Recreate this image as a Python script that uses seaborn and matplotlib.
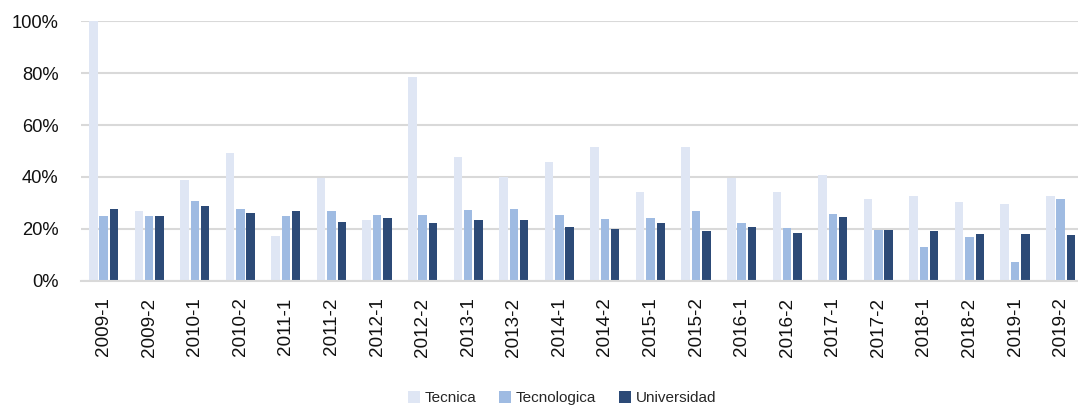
import numpy as np
import pandas as pd
import matplotlib
matplotlib.use("Agg")
import matplotlib.pyplot as plt
import seaborn as sns
from matplotlib.ticker import PercentFormatter

periods = ["2009-1", "2009-2", "2010-1", "2010-2", "2011-1", "2011-2",
           "2012-1", "2012-2", "2013-1", "2013-2", "2014-1", "2014-2",
           "2015-1", "2015-2", "2016-1", "2016-2", "2017-1", "2017-2",
           "2018-1", "2018-2", "2019-1", "2019-2"]
tecnica = [100.0, 26.9, 38.8, 49.4, 17.3, 39.5, 23.5, 78.6, 47.7, 40.1, 45.9,
           51.4, 34.4, 51.4, 39.5, 34.4, 40.8, 31.4, 32.7, 30.3, 29.7, 32.7]
tecnologica = [25.0, 25.0, 30.8, 27.6, 25.0, 26.9, 25.5, 25.5, 27.3, 27.7, 25.3,
               23.8, 24.1, 26.9, 22.1, 20.4, 25.8, 19.4, 13.2, 16.7, 7.3, 31.4]
universidad = [27.7, 25.0, 28.7, 26.3, 26.9, 22.8, 24.1, 22.1, 23.6, 23.6, 20.8,
               20.1, 22.3, 19.2, 20.8, 18.3, 24.5, 19.4, 19.2, 18.1, 17.9, 17.7]
series = ["Tecnica", "Tecnologica", "Universidad"]
colors = ["#dfe6f4", "#9fbbe2", "#2c4a77"]

df = pd.DataFrame({"periodo": periods * 3,
                   "tipo": np.repeat(series, len(periods)),
                   "valor": np.array(tecnica + tecnologica + universidad) / 100})

sns.set_style("white")
plt.rcParams["font.family"] = ["Liberation Sans", "DejaVu Sans"]

fig = plt.figure(figsize=(10.78, 4.07), dpi=100)
ax = fig.add_axes([0.075, 0.31, 0.93, 0.638])

sns.barplot(data=df, x="periodo", y="valor", hue="tipo", palette=colors,
            width=0.68, gap=0.18, saturation=1, linewidth=0, ax=ax)

ax.set_ylim(0, 1)
ax.set_xlim(-0.5, len(periods) - 0.5)
ax.yaxis.set_major_formatter(PercentFormatter(1.0, decimals=0))
ax.set_yticks(np.arange(0, 1.01, 0.2))
ax.grid(axis="y", color="#d9d9d9", linewidth=1.5)
ax.set_axisbelow(True)
for s in ["left", "right", "top"]:
    ax.spines[s].set_visible(False)
ax.spines["bottom"].set_color("#d9d9d9")
ax.spines["bottom"].set_linewidth(1.5)
ax.tick_params(axis="y", labelsize=13.2, length=0, pad=16, labelcolor="#111111")
ax.tick_params(axis="x", labelsize=13.6, length=0, pad=12, labelrotation=90,
               labelcolor="#111111")
ax.set_xlabel("")
ax.set_ylabel("")

ax.legend(loc="center", bbox_to_anchor=(0.48, -0.452), ncol=3, frameon=False,
          fontsize=11, handlelength=0.8, handleheight=0.8, handletextpad=0.3,
          columnspacing=1.5, borderaxespad=0, borderpad=0)

fig.savefig("out.png", dpi=100)
